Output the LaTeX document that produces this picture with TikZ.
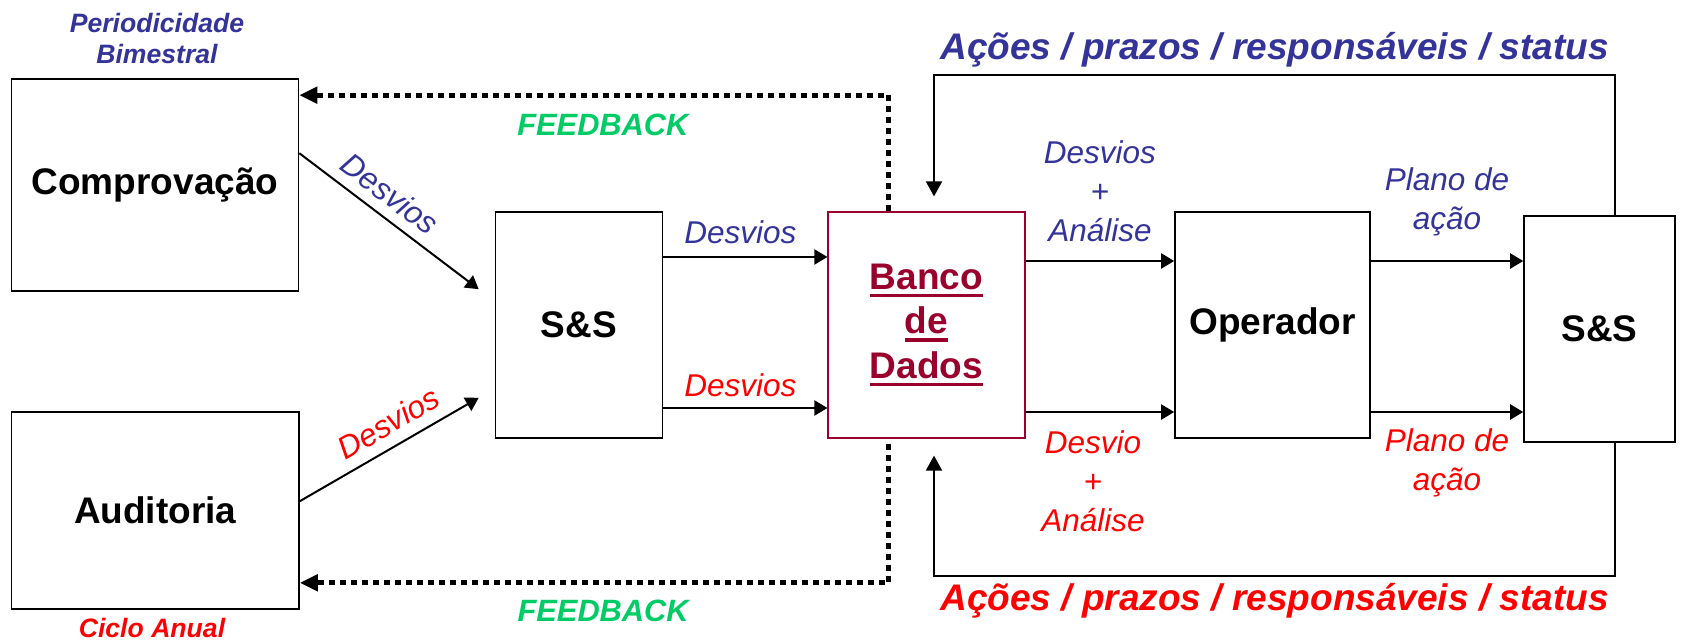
\documentclass[tikz,border=0pt]{standalone}
\usepackage{fontspec}
\setmainfont{Liberation Sans}
\usepackage{xcolor}
\usetikzlibrary{arrows.meta}
\definecolor{azul}{HTML}{333399}
\definecolor{vermelho}{HTML}{FF0000}
\definecolor{verde}{HTML}{00CC66}
\definecolor{vinho}{HTML}{99002B}
\newcommand{\sublinha}[1]{\leavevmode\setbox0\hbox{#1}\rlap{\rule[-3.8pt]{\wd0}{1.6pt}}\box0}

\begin{document}
\begin{tikzpicture}[x=0.5pt, y=-0.5pt,
  box/.style={draw, line width=0.8pt, inner sep=0pt, align=center, font=\bfseries\fontsize{18.5}{22}\selectfont},
  seta/.style={-{Triangle[length=6.5pt,width=7.5pt]}, line width=1pt},
  laco/.style={-{Triangle[length=7.5pt,width=8pt]}, line width=0.9pt},
  feedback/.style={-{Triangle[length=9pt,width=8pt]}, line width=2.5pt, dash pattern=on 3pt off 2.5pt},
  rotulo/.style={font=\itshape\fontsize{15.75}{19.5}\selectfont, align=center, inner sep=3pt},
  nota/.style={font=\bfseries\itshape\fontsize{13.3}{15.5}\selectfont, align=center},
  fbtexto/.style={font=\bfseries\itshape\fontsize{15.4}{18}\selectfont, text=verde},
  titulo/.style={font=\bfseries\itshape\fontsize{18.5}{22}\selectfont}]
\useasboundingbox (0,0) rectangle (1684,641);

% caixas
\node[nota, text=azul] (periodo) at (157,38) {Periodicidade\\Bimestral};
\node[box, minimum width=143.5pt, minimum height=106pt] (comp) at (155,185) {Comprovação};
\node[box, minimum width=143.75pt, minimum height=98.5pt] (audit) at (155.25,510.5) {Auditoria};
\node[nota, text=vermelho] (ciclo) at (152,628) {Ciclo Anual};
\node[box, minimum width=83.5pt, minimum height=113pt] (ssa) at (579,325) {S\&S};
\node[box, draw=vinho, line width=0.6pt, text=vinho, minimum width=98.5pt, minimum height=113pt,
      font=\bfseries\fontsize{18.5}{22.25}\selectfont] (banco) at (926.5,325) {\sublinha{Banco}\\\sublinha{de}\\\sublinha{Dados}};
\node[box, minimum width=97.5pt, minimum height=113pt] (oper) at (1272.5,325) {Operador};
\node[box, minimum width=75.5pt, minimum height=113pt] (ssb) at (1599.5,329) {S\&S};

% desvios
\draw[seta] ([yshift=-37.5pt]comp.north east) -- node[pos=0.43, rotulo, text=azul, sloped, above=2pt] {Desvios} ([xshift=-8pt,yshift=-39pt]ssa.north west);
\draw[seta] ([yshift=-45pt]audit.north east) -- node[pos=0.56, rotulo, text=vermelho, sloped, above=2.5pt] {Desvios} ([xshift=-8pt,yshift=20.5pt]ssa.south west);
\draw[seta] ([yshift=34pt]ssa.east) -- node[rotulo, text=azul, above=3pt, xshift=-2.5pt] {Desvios} ([yshift=34pt]banco.west);
\draw[seta] ([yshift=-41.5pt]ssa.east) -- node[rotulo, text=vermelho, above=2pt, xshift=-2.5pt] {Desvios} ([yshift=-41.5pt]banco.west);
\draw[seta] ([yshift=32pt]banco.east) -- node[rotulo, text=azul, above=6pt] {Desvios\\+\\Análise} ([yshift=32pt]oper.west);
\draw[seta] ([yshift=-43.5pt]banco.east) -- node[rotulo, text=vermelho, below=6pt, xshift=-3.5pt] {Desvio\\+\\Análise} ([yshift=-43.5pt]oper.west);
\draw[seta] ([yshift=32pt]oper.east) -- node[rotulo, text=azul, above=9pt] {Plano de\\ação} ([yshift=34pt]ssb.west);
\draw[seta] ([yshift=-43.5pt]oper.east) -- node[rotulo, text=vermelho, below=5pt] {Plano de\\ação} ([yshift=-41.5pt]ssb.west);

% retorno das acoes
\draw[laco] ([xshift=7.75pt]ssb.north) -- ++(0,-140) -| node[pos=0.25, titulo, text=azul, above] {Ações / prazos / responsáveis / status} ([xshift=3.75pt,yshift=7.5pt]banco.north);
\draw[laco] ([xshift=7.75pt]ssb.south) -- ++(0,133) -| node[pos=0.25, titulo, text=vermelho, below] {Ações / prazos / responsáveis / status} ([xshift=3.75pt,yshift=-8.5pt]banco.south);

% feedback
\draw[feedback] ([xshift=-19pt]banco.north) |- node[pos=0.75, fbtexto, below=5pt, xshift=4.5pt] {FEEDBACK} ([yshift=-8.5pt]comp.north east);
\draw[feedback] ([xshift=-19pt,yshift=-2.5pt]banco.south) |- node[pos=0.75, fbtexto, below=4pt, xshift=4.5pt] {FEEDBACK} ([yshift=13.5pt]audit.south east);
\end{tikzpicture}
\end{document}
